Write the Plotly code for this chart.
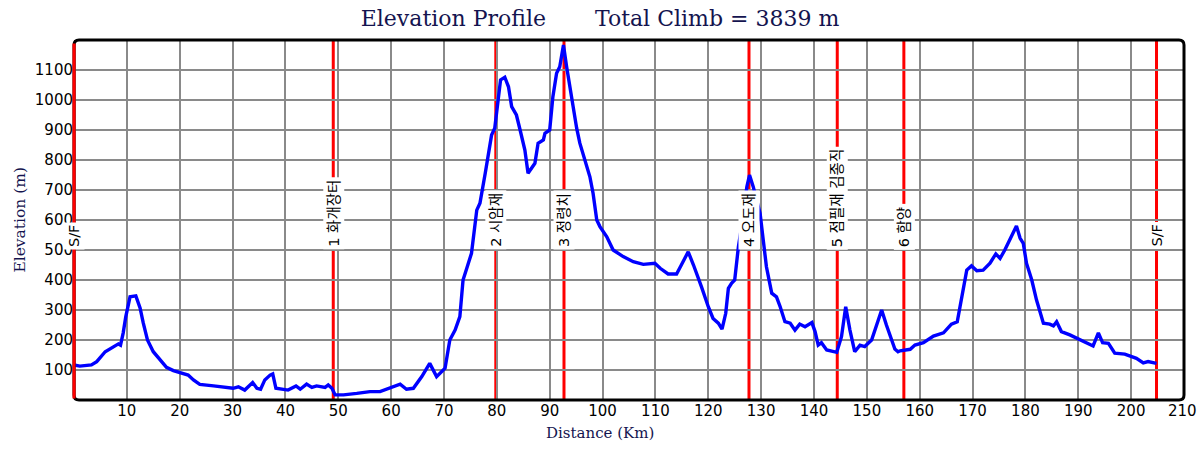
import plotly.graph_objects as go

# ---- data ----
distance_km = [0, 1.1, 3.3, 4.3, 5.9, 7.1, 8.4, 8.8, 9.3, 9.8, 10.6, 11.7, 12.5, 13.1, 13.9, 15.0, 16.0, 17.5,
               18.8, 20.7, 21.6, 22.6, 23.8, 26.4, 28.9, 30.1, 31.1, 32.3, 33.8, 34.6, 35.3, 36.1, 37.1, 37.6,
               38.2, 39.6, 40.5, 42.0, 42.8, 44.0, 45.0, 45.9, 47.5, 48.1, 48.8, 49.4, 51.0, 53.5, 56.0, 57.9,
               59.5, 61.7, 62.9, 64.2, 65.8, 67.3, 68.6, 70.2, 71.1, 72.1, 73.0, 73.6, 74.4, 75.2, 76.2, 76.8,
               77.8, 78.4, 79.0, 79.6, 80.3, 80.7, 81.5, 82.2, 82.8, 83.7, 84.4, 84.9, 85.3, 85.9, 86.6, 87.2,
               87.8, 88.8, 89.1, 90.0, 90.6, 91.3, 91.9, 92.6, 93.2, 94.3, 95.1, 95.7, 96.7, 97.6, 98.2, 98.9,
               99.5, 100.8, 102.0, 103.9, 105.8, 107.7, 109.9, 110.9, 112.4, 114.0, 114.9, 116.2, 117.2, 118.1,
               118.7, 120.0, 120.9, 121.9, 122.6, 123.3, 123.8, 124.4, 125.0, 125.7, 126.3, 127.3, 127.8, 128.5,
               129.8, 130.4, 131.0, 132.0, 132.9, 133.6, 134.5, 135.5, 136.4, 137.3, 138.3, 139.6, 140.2, 140.8,
               141.4, 142.4, 144.3, 145.2, 146.0, 146.8, 147.7, 148.7, 149.6, 150.9, 151.8, 152.8, 153.7, 154.7,
               155.3, 155.9, 156.3, 158.2, 159.1, 160.7, 162.6, 164.5, 166.0, 167.1, 167.9, 168.9, 169.8, 170.8,
               172.0, 173.3, 174.4, 175.2, 176.1, 177.1, 177.7, 178.3, 179.0, 179.6, 180.2, 181.2, 182.1, 183.4,
               184.6, 185.3, 185.9, 186.8, 188.4, 190.3, 192.8, 193.8, 194.6, 195.7, 196.9, 198.8, 200.1, 201.0,
               202.3, 203.2, 204.8]
elevation_m = [117, 113, 117, 128, 161, 173, 187, 183, 223, 278, 344, 347, 307, 257, 200, 161, 139, 109,
               98, 87, 83, 67, 52, 47, 42, 39, 44, 33, 58, 39, 36, 67, 83, 87,
               39, 36, 33, 47, 36, 53, 42, 47, 42, 50, 39, 17, 17, 22, 28, 28,
               39, 53, 36, 39, 78, 122, 78, 106, 200, 233, 278, 400, 444, 489, 633, 656,
               756, 822, 883, 906, 1011, 1067, 1076, 1044, 978, 950, 900, 867, 833, 756, 772, 789,
               856, 867, 889, 900, 1011, 1089, 1111, 1183, 1111, 989, 906, 856, 800, 744, 689, 600,
               578, 544, 500, 478, 461, 452, 456, 439, 420, 420, 450, 494, 450, 411,
               378, 311, 272, 256, 236, 289, 372, 389, 400, 511, 578, 711, 750, 711,
               622, 533, 444, 356, 344, 311, 261, 256, 233, 253, 244, 258, 228, 183,
               191, 167, 159, 211, 311, 233, 161, 183, 178, 200, 244, 300, 250, 195,
               170, 161, 164, 169, 183, 191, 213, 224, 253, 261, 333, 433, 447, 431,
               433, 456, 487, 472, 500, 536, 556, 580, 539, 522, 456, 400, 333, 256,
               253, 247, 261, 228, 217, 200, 180, 224, 191, 189, 156, 153, 144, 139,
               124, 128, 122]

checkpoint_km = [0, 49.05, 79.8, 92.7, 127.7, 144.4, 157.0, 204.8]
checkpoint_labels = ["S/F", "1 화개장터", "2 시암재", "3 정령치", "4 오도재", "5 점필재 김종직", "6 함양", "S/F"]
label_elevation = 500

x_max = 210
x_ticks = list(range(10, 201, 10))
y_ticks = list(range(100, 1101, 100))

title_text = "Elevation Profile\u00a0\u00a0\u00a0\u00a0\u00a0\u00a0\u00a0Total Climb = 3839 m"

NAVY = "#14144f"

fig = go.Figure()
fig.add_trace(go.Scatter(x=distance_km, y=elevation_m, mode="lines",
                         line=dict(color="#0000ff", width=3.4), hoverinfo="skip", showlegend=False))

shapes = []
for xk in checkpoint_km:
    shapes.append(dict(type="line", xref="x", yref="paper", x0=xk, x1=xk, y0=0, y1=1,
                       line=dict(color="#ff0000", width=3), layer="between"))
rx, ry = 5 / 1110, 5 / 360
frame = (f"M {rx},0 L {1-rx},0 Q 1,0 1,{ry} L 1,{1-ry} Q 1,1 {1-rx},1 "
         f"L {rx},1 Q 0,1 0,{1-ry} L 0,{ry} Q 0,0 {rx},0 Z")
shapes.append(dict(type="path", xref="paper", yref="paper", path=frame,
                   line=dict(color="black", width=3), layer="above"))
shapes.append(dict(type="line", xref="paper", yref="paper", x0=0, x1=0, y0=0.004, y1=0.99,
                   line=dict(color="#ff0000", width=3), layer="above"))

annotations = []
for xk, lab in zip(checkpoint_km, checkpoint_labels):
    annotations.append(dict(x=xk, y=label_elevation, xref="x", yref="y", text=lab, textangle=-90,
                            showarrow=False, xanchor="center", yanchor="bottom",
                            bgcolor="white", borderpad=2,
                            font=dict(family="DejaVu Sans, Noto Sans CJK KR", size=14.5, color="black")))
# last x tick label (kept inside the page)
annotations.append(dict(x=x_max, y=0, xref="x", yref="y", text=str(x_max), showarrow=False,
                        xanchor="right", xshift=14, yanchor="top", yshift=-1, borderpad=0,
                        font=dict(family="DejaVu Sans", size=15, color="black")))
# axis titles
annotations.append(dict(x=0.474, y=-0.061, xref="paper", yref="paper", text="Distance (Km)",
                        showarrow=False, xanchor="center", yanchor="top",
                        font=dict(family="DejaVu Serif", size=15, color=NAVY)))
annotations.append(dict(x=-0.049, y=0.5, xref="paper", yref="paper", text="Elevation (m)", textangle=-90,
                        showarrow=False, xanchor="center", yanchor="middle",
                        font=dict(family="DejaVu Serif", size=15.5, color=NAVY)))

fig.update_layout(
    width=1200, height=450,
    margin=dict(l=74, r=16, t=40, b=50),
    paper_bgcolor="white", plot_bgcolor="white",
    title=dict(text=title_text, x=0.5, xanchor="center", y=0.96, yanchor="middle",
               font=dict(family="DejaVu Serif", size=22, color=NAVY)),
    shapes=shapes, annotations=annotations,
    xaxis=dict(range=[0, x_max], tickvals=x_ticks, ticktext=[str(v) for v in x_ticks],
               showgrid=True, gridcolor="#8a8a8a", gridwidth=1.5, zeroline=False,
               showline=False, ticks="",
               tickfont=dict(family="DejaVu Sans", size=15, color="black")),
    yaxis=dict(range=[0, 1200], tickvals=y_ticks, ticktext=[str(v) for v in y_ticks],
               showgrid=True, gridcolor="#8a8a8a", gridwidth=1.5, zeroline=False,
               showline=False, ticks="", tickfont=dict(family="DejaVu Sans", size=15, color="black")),
)

fig.write_html("out.html")
